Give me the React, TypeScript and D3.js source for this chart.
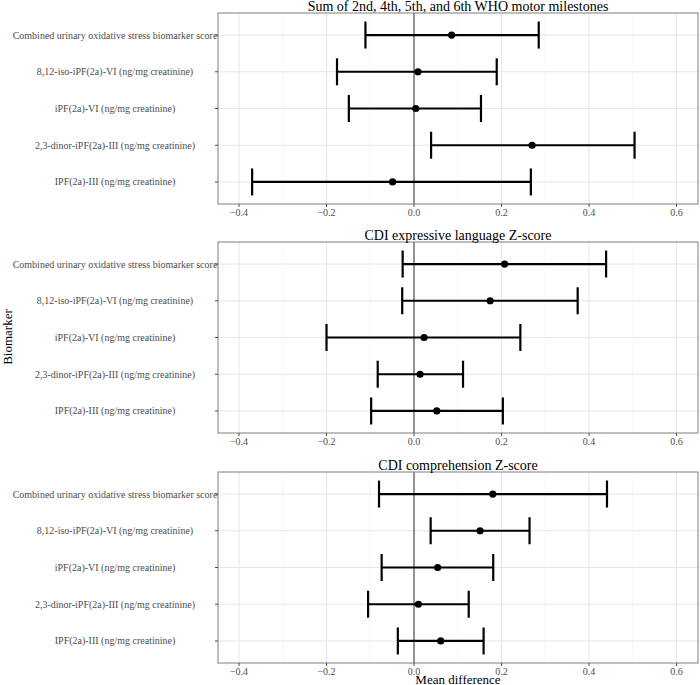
import React from "react";
import * as d3 from "d3";

const biomarkers = [
  "Combined urinary oxidative stress biomarker score",
  "8,12-iso-iPF(2a)-VI (ng/mg creatinine)",
  "iPF(2a)-VI (ng/mg creatinine)",
  "2,3-dinor-iPF(2a)-III (ng/mg creatinine)",
  "IPF(2a)-III (ng/mg creatinine)",
];

const outcomes = [
  "Sum of 2nd, 4th, 5th, and 6th WHO motor milestones",
  "CDI expressive language Z-score",
  "CDI comprehension Z-score",
];

// mean difference, lower and upper CI per outcome (rows in biomarker order)
const motorMean = [0.086, 0.009, 0.004, 0.27, -0.049];
const motorLow = [-0.111, -0.176, -0.149, 0.039, -0.37];
const motorHigh = [0.285, 0.189, 0.153, 0.504, 0.267];

const expressiveMean = [0.207, 0.174, 0.023, 0.014, 0.052];
const expressiveLow = [-0.026, -0.027, -0.2, -0.083, -0.098];
const expressiveHigh = [0.439, 0.374, 0.243, 0.112, 0.203];

const comprehensionMean = [0.18, 0.151, 0.054, 0.01, 0.061];
const comprehensionLow = [-0.08, 0.038, -0.074, -0.105, -0.037];
const comprehensionHigh = [0.441, 0.264, 0.181, 0.125, 0.159];

const xTicks = [-0.4, -0.2, 0.0, 0.2, 0.4, 0.6];
const xMinor = [-0.3, -0.1, 0.1, 0.3, 0.5];

const panelData = [
  { mean: motorMean, low: motorLow, high: motorHigh },
  { mean: expressiveMean, low: expressiveLow, high: expressiveHigh },
  { mean: comprehensionMean, low: comprehensionLow, high: comprehensionHigh },
];

const W = 700;
const H = 685;
const left = 218;
const right = 698;
const panelTops = [13, 242, 472];
const panelH = 191;
const font = "'Liberation Serif', 'Times New Roman', serif";

const x = d3.scaleLinear().domain([-0.448, 0.649]).range([left, right]);
const fmt = d3.format(".1f");

function Panel({ idx }: { idx: number }) {
  const top = panelTops[idx];
  const y = d3.scalePoint<string>().domain(biomarkers).range([top, top + panelH]).padding(0.6);
  const d = panelData[idx];
  const capH = 27;
  return (
    <g>
      <rect x={left} y={top} width={right - left} height={panelH} fill="white" />
      {xMinor.map((t) => (
        <line key={"m" + t} x1={x(t)} x2={x(t)} y1={top} y2={top + panelH} stroke="#f2f2f2" strokeWidth={0.6} />
      ))}
      {xTicks.map((t) => (
        <line key={"g" + t} x1={x(t)} x2={x(t)} y1={top} y2={top + panelH} stroke="#e6e6e6" strokeWidth={1} />
      ))}
      {biomarkers.map((b) => (
        <line key={"h" + b} x1={left} x2={right} y1={y(b)} y2={y(b)} stroke="#e6e6e6" strokeWidth={1} />
      ))}
      <line x1={x(0)} x2={x(0)} y1={top} y2={top + panelH} stroke="#333" strokeWidth={1} />
      {biomarkers.map((b, i) => {
        const yy = y(b) as number;
        return (
          <g key={"e" + b} stroke="black" strokeWidth={2.2}>
            <line x1={x(d.low[i])} x2={x(d.high[i])} y1={yy} y2={yy} />
            <line x1={x(d.low[i])} x2={x(d.low[i])} y1={yy - capH / 2} y2={yy + capH / 2} />
            <line x1={x(d.high[i])} x2={x(d.high[i])} y1={yy - capH / 2} y2={yy + capH / 2} />
            <circle cx={x(d.mean[i])} cy={yy} r={3.6} fill="black" stroke="none" />
          </g>
        );
      })}
      <rect x={left} y={top} width={right - left} height={panelH} fill="none" stroke="#7f7f7f" strokeWidth={1} />
      {biomarkers.map((b) => (
        <g key={"t" + b}>
          <line x1={left - 3} x2={left} y1={y(b)} y2={y(b)} stroke="#4d4d4d" strokeWidth={1} />
          <text x={115} y={(y(b) as number) + 3.5} textAnchor="middle" fontSize={10} fill="#4d4d4d" fontFamily={font}>
            {b}
          </text>
        </g>
      ))}
      {xTicks.map((t) => (
        <g key={"xt" + t}>
          <line x1={x(t)} x2={x(t)} y1={top + panelH} y2={top + panelH + 3} stroke="#4d4d4d" strokeWidth={1} />
          <text x={x(t)} y={top + panelH + 12} textAnchor="middle" fontSize={10} fill="#4d4d4d" fontFamily={font}>
            {fmt(t)}
          </text>
        </g>
      ))}
      <text x={(left + right) / 2} y={top - 2.5} textAnchor="middle" fontSize={14} fill="black" fontFamily={font}>
        {outcomes[idx]}
      </text>
    </g>
  );
}

export default function App() {
  return (
    <svg width={W} height={H} style={{ position: "absolute", left: 0, top: 0, background: "white" }}>
      <rect width={W} height={H} fill="white" />
      {outcomes.map((o, i) => (
        <Panel key={o} idx={i} />
      ))}
      <text transform={`translate(12,337) rotate(-90)`} textAnchor="middle" fontSize={13} fill="black" fontFamily={font}>
        Biomarker
      </text>
      <text x={(left + right) / 2} y={684} textAnchor="middle" fontSize={13} fill="black" fontFamily={font}>
        Mean difference
      </text>
    </svg>
  );
}
